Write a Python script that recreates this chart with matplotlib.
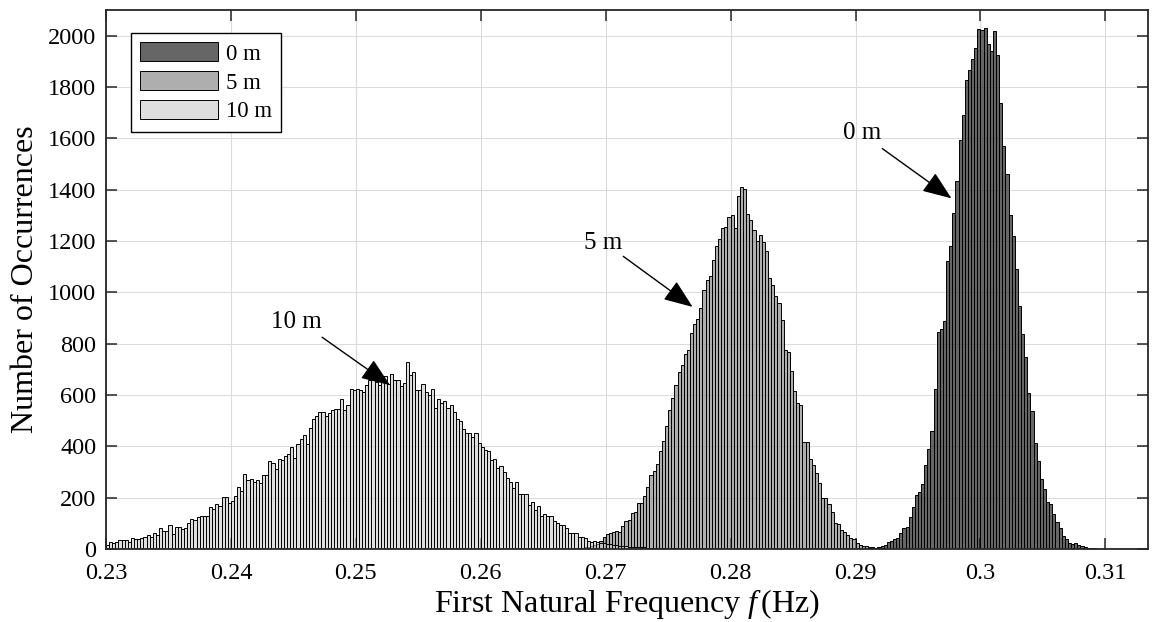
import numpy as np
import matplotlib
matplotlib.use('Agg')
import matplotlib.pyplot as plt

plt.rcParams['font.family'] = ['Liberation Serif', 'DejaVu Serif']
plt.rcParams['mathtext.fontset'] = 'custom'
plt.rcParams['mathtext.rm'] = 'Liberation Serif'
plt.rcParams['mathtext.it'] = 'Liberation Serif:italic'

# histogram bins, all three series share the same bin width
bin_width = 0.00025

# 10 m series, first bin starts at 0.23
start_10m = 0.23
counts_10m = [16, 26, 23, 26, 35, 35, 35, 27, 44, 40, 39, 44, 48, 53, 47, 61, 53, 82, 70, 69,
              95, 60, 87, 86, 79, 83, 101, 118, 113, 126, 127, 128, 130, 162, 155, 175, 166, 201, 204, 180,
              185, 205, 241, 224, 292, 267, 272, 259,
              268, 258, 287, 287, 341, 336, 310, 350, 346, 363, 370, 398, 354, 409, 428, 445, 409, 473,
              505, 518, 533, 532, 518,
              530, 540, 547, 545, 585, 541, 560, 622, 618, 622, 618, 612, 640, 658, 658, 651, 638, 672,
              672, 643, 680, 658, 660, 634, 647,
              728, 677, 690, 619, 619, 641, 610, 600, 622, 550, 586, 567, 577, 550, 560, 534, 505, 500,
              466, 452, 453, 437, 450, 411, 398, 385, 380, 346, 352, 315, 325, 300, 275, 262, 238, 262,
              215, 215, 215, 170, 182, 150, 168, 130, 138, 130, 127, 108, 102, 92, 92, 80, 64, 64, 62,
              46, 45, 44, 32, 28, 30, 27, 24, 22, 20,
              18, 16, 14, 13, 12, 10, 9, 8, 8, 7, 6, 6, 5, 5, 4, 4, 3, 3, 3, 2, 2, 2, 1, 1, 1, 1, 0, 1, 0, 1]

# 5 m series
start_5m = 0.2675
counts_5m = [2, 3, 5, 6, 8, 12, 15, 20, 30, 45,
             60, 63, 67, 70, 67, 90, 110, 112, 140, 145,
             180, 180, 205, 240, 290, 305, 330, 380, 420, 480,
             540, 590, 640, 690, 715, 760, 775, 840, 875, 895,
             940, 1008, 1047, 1062, 1127, 1180, 1209, 1250, 1256, 1293,
             1300, 1250, 1377, 1410, 1403, 1306, 1281, 1242, 1198, 1223,
             1196, 1160, 1057, 1027, 984, 958, 891, 774, 768, 692,
             616, 570, 559, 415, 415, 350, 327, 295, 258, 200,
             197, 175, 146, 102, 97, 74, 67, 54,
             44, 38, 24, 17, 12, 10, 8, 6, 4, 3, 2]

# 0 m series
start_0m = 0.291
counts_0m = [2, 3, 5, 8, 10, 15, 26, 33, 38, 44, 61, 82, 85, 125, 163, 211, 221, 253, 329, 388,
             461, 624, 844, 857, 889, 1121, 1180, 1309, 1434, 1594, 1691, 1827, 1865, 1907, 1950,
             2025, 2022, 2028, 1966, 1941, 2017, 1925, 1737, 1569, 1459, 1302, 1219, 1091, 948, 837,
             746, 607, 538, 413, 343, 274, 232, 183, 176, 135, 107, 82, 51, 40, 24, 19, 22, 14, 12,
             8, 5, 3, 2]

x_ticks = [0.23, 0.24, 0.25, 0.26, 0.27, 0.28, 0.29, 0.30, 0.31]
x_ticklabels = ['0.23', '0.24', '0.25', '0.26', '0.27', '0.28', '0.29', '0.3', '0.31']
y_ticks = list(range(0, 2001, 200))

series = [('0 m', start_0m, counts_0m, (0.0, 0.0, 0.0, 0.6)),
          ('5 m', start_5m, counts_5m, (0.475, 0.475, 0.475, 0.6)),
          ('10 m', start_10m, counts_10m, (0.79, 0.79, 0.79, 0.6))]

fig = plt.figure(figsize=(11.63, 6.22), dpi=100)
ax = fig.add_axes([0.0911, 0.1174, 0.8959, 0.8666])

for name, start, counts, fc in series:
    lefts = start + bin_width * np.arange(len(counts))
    ax.bar(lefts, counts, width=bin_width, align='edge', facecolor=fc,
           edgecolor='black', linewidth=0.7, label=name)

ax.set_xlim(0.23, 0.3134)
ax.set_ylim(0, 2100)
ax.set_xticks(x_ticks)
ax.set_xticklabels(x_ticklabels)
ax.set_yticks(y_ticks)
ax.set_axisbelow(True)
ax.grid(True, color='#dcdcdc', linewidth=0.8)
ax.tick_params(direction='in', length=8, width=1.1, labelsize=17.5, top=True, right=True,
               color='#262626')
ax.tick_params(axis='x', pad=10)
ax.tick_params(axis='y', pad=7)
for s in ax.spines.values():
    s.set_linewidth(1.3)
    s.set_color('#262626')

ax.set_xlabel(r'First Natural Frequency $f\,$(Hz)', fontsize=23, labelpad=2)
ax.set_ylabel('Number of Occurrences', fontsize=23, labelpad=6)

leg = ax.legend(loc='upper left', bbox_to_anchor=(0.024, 0.957), borderaxespad=0,
                fontsize=16.5, fancybox=False, edgecolor='black', framealpha=1,
                handlelength=3.4, handleheight=0.9, labelspacing=0.28, handletextpad=0.35,
                borderpad=0.4)
leg.get_frame().set_linewidth(1.0)

arrow = dict(arrowstyle='-|>,head_length=0.9,head_width=0.35', color='black',
             linewidth=1.0, mutation_scale=20, shrinkA=0, shrinkB=0)
ax.annotate('', xy=(0.29768, 1366), xytext=(0.29214, 1560), arrowprops=arrow)
ax.annotate('', xy=(0.27696, 943), xytext=(0.27141, 1140), arrowprops=arrow)
ax.annotate('', xy=(0.25274, 638), xytext=(0.24730, 825), arrowprops=arrow)
ax.text(0.2905, 1619, '0 m', fontsize=18, ha='center', va='center')
ax.text(0.26981, 1192, '5 m', fontsize=18, ha='center', va='center')
ax.text(0.24522, 883, '10 m', fontsize=18, ha='center', va='center')

fig.savefig('out.png', dpi=100)
